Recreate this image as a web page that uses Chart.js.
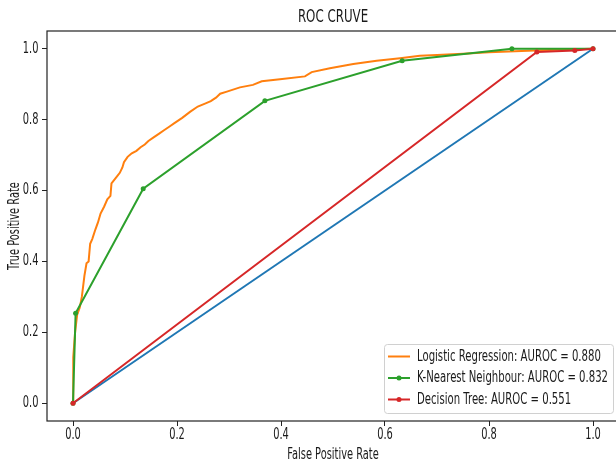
<!DOCTYPE html>
<html><head><meta charset="utf-8">
<style>html,body{margin:0;padding:0;overflow:hidden;background:#fff;width:616px;height:464px}</style>
<script src="https://cdn.jsdelivr.net/npm/chart.js@4"></script>
</head><body>
<canvas id="c" width="622" height="464"></canvas>
<script>
const FONT = "'DejaVu Sans', sans-serif";
const SX = 0.657; // horizontal text compression seen in the reference

const chartTitle = 'ROC CRUVE';
const xTitle = 'False Positive Rate';
const yTitle = 'True Positive Rate';
const xTicks = [0, 0.2, 0.4, 0.6, 0.8, 1.0];
const yTicks = [0, 0.2, 0.4, 0.6, 0.8, 1.0];
const seriesLabels = ['Logistic Regression: AUROC = 0.880', 'K-Nearest Neighbour: AUROC = 0.832', 'Decision Tree: AUROC = 0.551'];

const diagFpr = [0, 1];
const diagTpr = [0, 1];

const lrFpr = [0, 0.000, 0.001, 0.004, 0.008, 0.013, 0.017, 0.022, 0.026, 0.030, 0.033, 0.037, 0.043, 0.048, 0.053, 0.060, 0.066, 0.072, 0.074, 0.082, 0.090, 0.095, 0.098, 0.105, 0.113, 0.122, 0.130, 0.138, 0.145, 0.155, 0.165, 0.175, 0.185, 0.195, 0.210, 0.225, 0.240, 0.255, 0.265, 0.275, 0.283, 0.296, 0.321, 0.346, 0.363, 0.398, 0.446, 0.459, 0.494, 0.539, 0.584, 0.629, 0.667, 0.700, 0.750, 0.800, 0.850, 0.900, 0.950, 1.0];
const lrTpr = [0, 0.010, 0.130, 0.200, 0.250, 0.270, 0.300, 0.360, 0.395, 0.400, 0.450, 0.463, 0.490, 0.510, 0.535, 0.555, 0.575, 0.585, 0.620, 0.635, 0.650, 0.665, 0.680, 0.695, 0.705, 0.712, 0.722, 0.730, 0.740, 0.750, 0.760, 0.770, 0.780, 0.790, 0.805, 0.822, 0.837, 0.846, 0.852, 0.862, 0.873, 0.879, 0.891, 0.898, 0.908, 0.914, 0.922, 0.934, 0.945, 0.957, 0.966, 0.973, 0.980, 0.982, 0.986, 0.990, 0.993, 0.996, 0.998, 1.0];

const knnFpr = [0, 0.005, 0.135, 0.369, 0.633, 0.844, 1.0];
const knnTpr = [0, 0.254, 0.605, 0.853, 0.966, 1.0, 1.0];

const dtFpr = [0, 0.892, 0.965, 1.0];
const dtTpr = [0, 0.991, 0.995, 1.0];

const toPts = (xs, ys) => xs.map((x, i) => ({x: x, y: ys[i]}));

const COLORS = ['#1f77b4', '#ff7f0e', '#2ca02c', '#d62728'];
const TXT = '#1a1a1a';

const canvas = document.getElementById('c');
const ctx2d = canvas.getContext('2d');
// draw all text condensed horizontally (text stays real canvas text)
const origFill = ctx2d.fillText.bind(ctx2d);
ctx2d.fillText = function (t, x, y, mw) {
  this.save();
  this.translate(x, y);
  this.scale(SX, 1);
  origFill(t, 0, 0);
  this.restore();
};

const framePlugin = {
  id: 'frame',
  afterDraw(chart) {
    const ctx = chart.ctx, a = chart.chartArea;
    ctx.save();
    ctx.strokeStyle = '#222';
    ctx.lineWidth = 1.2;
    ctx.strokeRect(a.left, a.top, a.right - a.left, a.bottom - a.top);
    ctx.fillStyle = TXT;
    ctx.font = "18px " + FONT;
    ctx.textAlign = 'center';
    ctx.textBaseline = 'middle';
    ctx.fillText(chartTitle, (a.left + a.right) / 2, 17);
    const bx = 384.5, by = 344.5, bw = 229, bh = 69;
    ctx.beginPath();
    ctx.roundRect(bx, by, bw, bh, 3);
    ctx.fillStyle = 'rgba(255,255,255,0.8)';
    ctx.fill();
    ctx.strokeStyle = '#d0d0d0';
    ctx.lineWidth = 1;
    ctx.stroke();
    const rows = [356.5, 378, 399.5];
    const ds = chart.data.datasets.slice(1);
    ctx.font = "15.4px " + FONT;
    ctx.textAlign = 'left';
    ds.forEach((d, i) => {
      const y = rows[i];
      ctx.strokeStyle = d.borderColor;
      ctx.lineWidth = 2;
      ctx.beginPath();
      ctx.moveTo(388, y);
      ctx.lineTo(410, y);
      ctx.stroke();
      if (d.pointRadius > 0) {
        ctx.fillStyle = d.borderColor;
        ctx.beginPath();
        ctx.arc(399, y, d.pointRadius, 0, Math.PI * 2);
        ctx.fill();
      }
      ctx.fillStyle = TXT;
      ctx.fillText(seriesLabels[i], 417, y);
    });
    ctx.restore();
  }
};

const axisCommon = {
  type: 'linear',
  min: -0.05,
  max: 1.05,
  grid: {display: true, drawOnChartArea: false, drawTicks: true, tickLength: 5, color: '#222', tickColor: '#222', lineWidth: 1},
  border: {display: false},
};

new Chart(ctx2d, {
  type: 'line',
  data: {
    datasets: [
      {label: 'diag', data: toPts(diagFpr, diagTpr), borderColor: COLORS[0], backgroundColor: COLORS[0], borderWidth: 2, pointRadius: 0, order: 4},
      {label: seriesLabels[0], data: toPts(lrFpr, lrTpr), borderColor: COLORS[1], backgroundColor: COLORS[1], borderWidth: 2, pointRadius: 0, order: 3},
      {label: seriesLabels[1], data: toPts(knnFpr, knnTpr), borderColor: COLORS[2], backgroundColor: COLORS[2], borderWidth: 2, pointRadius: 2.5, pointBorderWidth: 0, pointBackgroundColor: COLORS[2], order: 2},
      {label: seriesLabels[2], data: toPts(dtFpr, dtTpr), borderColor: COLORS[3], backgroundColor: COLORS[3], borderWidth: 2, pointRadius: 2.5, pointBorderWidth: 0, pointBackgroundColor: COLORS[3], order: 1}
    ]
  },
  options: {
    responsive: false,
    animation: false,
    devicePixelRatio: 1,
    layout: {autoPadding: false, padding: {top: 31, right: 3, left: 0, bottom: 0}},
    elements: {line: {tension: 0}},
    plugins: {legend: {display: false}, title: {display: false}, tooltip: {enabled: false}},
    scales: {
      x: Object.assign({}, axisCommon, {
        position: 'bottom',
        afterBuildTicks: s => { s.ticks = xTicks.map(v => ({value: v})); },
        afterFit: s => { s.height = 43; s.paddingLeft = 0; s.paddingRight = 0; },
        ticks: {callback: v => Number(v).toFixed(1), font: {family: FONT, size: 15}, color: TXT, padding: 0, maxRotation: 0, autoSkip: false},
        title: {display: true, text: xTitle, font: {family: FONT, size: 15}, color: TXT, padding: {top: 0, bottom: 0}}
      }),
      y: Object.assign({}, axisCommon, {
        position: 'left',
        afterBuildTicks: s => { s.ticks = yTicks.map(v => ({value: v})); },
        afterFit: s => { s.width = 47; s.paddingTop = 0; s.paddingBottom = 0; },
        ticks: {callback: v => Number(v).toFixed(1), font: {family: FONT, size: 15}, color: TXT, padding: 3.5, autoSkip: false},
        title: {display: true, text: yTitle, font: {family: FONT, size: 15}, color: TXT, padding: {top: 6, bottom: 0}}
      })
    }
  },
  plugins: [framePlugin]
});
</script>
</body></html>
